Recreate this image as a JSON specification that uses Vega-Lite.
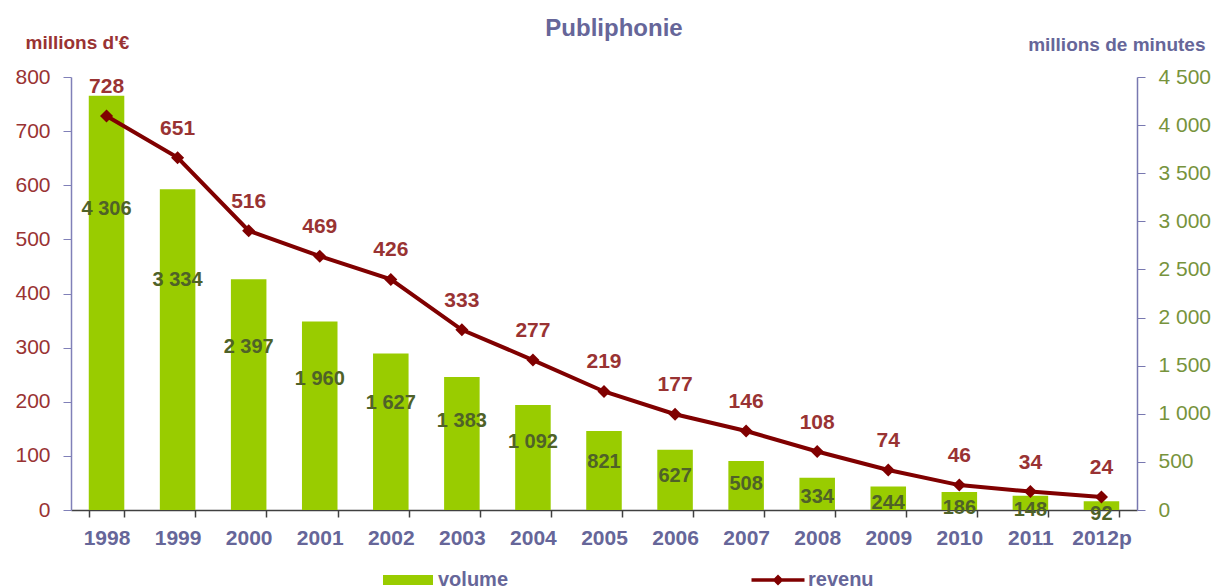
{
  "$schema": "https://vega.github.io/schema/vega-lite/v6.json",
  "width": 1066,
  "height": 433,
  "autosize": "none",
  "padding": {"left": 71, "top": 77, "right": 80, "bottom": 77},
  "background": "white",
  "config": {
    "view": {"stroke": null},
    "font": "Liberation Sans",
    "locale": {"number": {"decimal": ",", "thousands": " ", "grouping": [3], "currency": ["", " €"]}}
  },
  "title": {"text": "Publiphonie", "font": "Liberation Sans", "fontSize": 24, "fontWeight": "bold", "color": "#666699", "anchor": "middle", "dx": 10, "offset": 0, "dy": 27, "baseline": "alphabetic", "frame": "group"},
  "data": {"values": [
    {"year": "1998", "volume": 4306, "revenu": 728},
    {"year": "1999", "volume": 3334, "revenu": 651},
    {"year": "2000", "volume": 2397, "revenu": 516},
    {"year": "2001", "volume": 1960, "revenu": 469},
    {"year": "2002", "volume": 1627, "revenu": 426},
    {"year": "2003", "volume": 1383, "revenu": 333},
    {"year": "2004", "volume": 1092, "revenu": 277},
    {"year": "2005", "volume": 821, "revenu": 219},
    {"year": "2006", "volume": 627, "revenu": 177},
    {"year": "2007", "volume": 508, "revenu": 146},
    {"year": "2008", "volume": 334, "revenu": 108},
    {"year": "2009", "volume": 244, "revenu": 74},
    {"year": "2010", "volume": 186, "revenu": 46},
    {"year": "2011", "volume": 148, "revenu": 34},
    {"year": "2012p", "volume": 92, "revenu": 24}
  ]},
  "encoding": {
    "x": {"field": "year", "type": "nominal", "sort": null,
      "scale": {"paddingInner": 0.5, "paddingOuter": 0.25},
      "axis": {"title": null, "labelAngle": 0, "labelFont": "Liberation Sans", "labelFontSize": 21, "labelFontWeight": "bold", "labelColor": "#666699", "domainColor": "#404040", "domainWidth": 1.5, "tickColor": "#404040", "tickWidth": 1.5, "tickSize": 7, "tickBand": "extent", "labelBaseline": "alphabetic", "labelPadding": 27, "grid": false}}
  },
  "layer": [
    {
      "mark": {"type": "bar", "color": "#99CC00"},
      "encoding": {
        "y": {"field": "volume", "type": "quantitative", "scale": {"domain": [0, 4500], "nice": false},
          "axis": {"orient": "right", "title": "millions de minutes", "titleAngle": 0, "titleAlign": "right", "titleBaseline": "alphabetic", "titleX": 68, "titleY": -27, "titleFont": "Liberation Sans", "titleFontSize": 19, "titleFontWeight": "bold", "titleColor": "#666699",
            "values": [0, 500, 1000, 1500, 2000, 2500, 3000, 3500, 4000, 4500], "labelExpr": "format(datum.value, ',d')", "labelFont": "Liberation Sans", "labelFontSize": 21, "labelColor": "#77933C", "labelPadding": 13, "tickSize": 8, "tickColor": "#7878B0", "domainColor": "#7878B0", "domainWidth": 1.5, "grid": false}},
        "fill": {"datum": "volume", "type": "nominal", "scale": {"range": ["#99CC00"]},
          "legend": {"orient": "none", "legendX": 327, "legendY": 493, "title": null, "symbolType": "M-2.5,-0.5H2.5V0.5H-2.5Z", "symbolSize": 400, "symbolStrokeWidth": 0, "labelOffset": 20, "labelFont": "Liberation Sans", "labelFontSize": 20, "labelFontWeight": "bold", "labelColor": "#666699"}}
      }
    },
    {
      "mark": {"type": "text", "font": "Liberation Sans", "fontSize": 20, "fontWeight": "bold", "color": "#4F6228", "baseline": "middle", "dy": 11},
      "encoding": {
        "y": {"field": "volume", "type": "quantitative", "scale": {"domain": [0, 5980], "nice": false}, "axis": null},
        "text": {"field": "volume", "type": "quantitative", "format": ","}
      }
    },
    {
      "encoding": {
        "y": {"field": "revenu", "type": "quantitative", "scale": {"domain": [0, 800], "nice": false},
          "axis": {"orient": "left", "title": "millions d'€", "titleAngle": 0, "titleAlign": "left", "titleBaseline": "alphabetic", "titleX": -46, "titleY": -29, "titleFont": "Liberation Sans", "titleFontSize": 19, "titleFontWeight": "bold", "titleColor": "#993333",
            "values": [0, 100, 200, 300, 400, 500, 600, 700, 800], "labelFont": "Liberation Sans", "labelFontSize": 21, "labelColor": "#993333", "labelPadding": 13, "tickSize": 8, "tickColor": "#8080B8", "domainColor": "#8080B8", "domainWidth": 1.5, "grid": false}}
      },
      "layer": [
        {
          "mark": {"type": "line", "strokeWidth": 4},
          "encoding": {
            "stroke": {"datum": "revenu", "type": "nominal", "scale": {"range": ["#800000"]},
              "legend": {"orient": "none", "legendX": 697, "legendY": 493, "title": null, "symbolType": "M-2.65,-0.18H2.65V0.18H-2.65Z M0,-0.55L0.55,0L0,0.55L-0.55,0Z", "symbolSize": 400, "symbolFillColor": "#800000", "symbolStrokeWidth": 0, "labelOffset": 20, "labelFont": "Liberation Sans", "labelFontSize": 20, "labelFontWeight": "bold", "labelColor": "#666699",
                "encode": {"symbols": {"update": {"fill": {"value": "#800000"}, "strokeWidth": {"value": 0}}}}}}
          }
        },
        {
          "mark": {"type": "point", "shape": "diamond", "size": 170, "filled": true, "color": "#800000", "opacity": 1},
          "encoding": {}
        },
        {
          "mark": {"type": "text", "font": "Liberation Sans", "fontSize": 21, "fontWeight": "bold", "color": "#993333", "baseline": "middle", "dy": -29},
          "encoding": {"text": {"field": "revenu", "type": "quantitative"}}
        }
      ]
    }
  ],
  "resolve": {"scale": {"y": "independent"}}
}
